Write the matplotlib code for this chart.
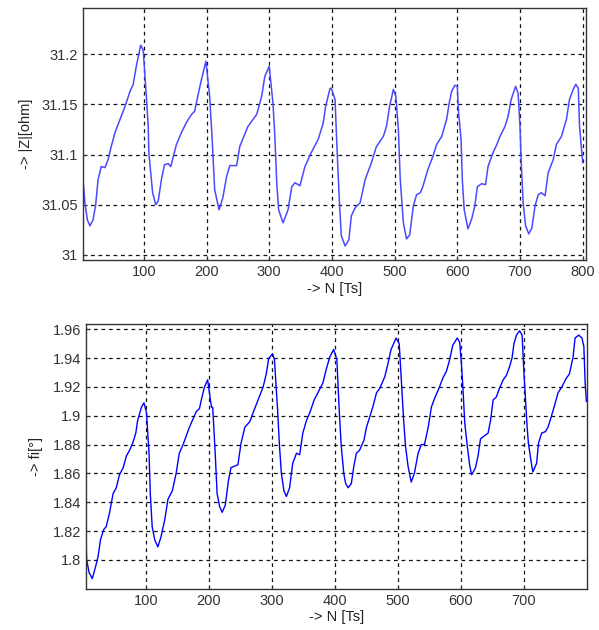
import matplotlib.pyplot as plt
import numpy as np
from matplotlib.ticker import FormatStrFormatter

# values
# top: |Z| [ohm] against sample number N
n_z = [3, 3, 6, 10, 14, 19, 23, 27, 32, 38, 43, 48, 54, 62, 70, 78, 83, 88, 95, 99,
       104, 107, 108, 111, 114, 119, 123, 128, 133, 139, 143, 147, 152, 160, 168, 176, 181, 187, 192, 199,
       205, 209, 213, 220, 226, 232, 237, 248, 253, 266, 280, 288, 293, 300,
       306, 309, 312, 315, 322, 330, 336, 341, 349, 357, 367, 378, 386, 390, 397, 399,
       405, 408, 412, 415, 421, 427, 431, 437, 445, 453, 463, 471, 482, 487, 492, 498,
       502, 506, 509, 514, 519, 524, 530, 535, 541, 545, 553, 561, 567, 575, 583, 587, 591, 596,
       600, 602, 606, 608, 611, 617, 623, 628, 632, 639, 645, 649, 657, 663, 668, 676, 681, 686, 693,
       697, 700, 702, 705, 709, 714, 719, 724, 729, 734, 740, 745, 753, 758, 766, 774, 779, 785, 789,
       793, 795, 800]
z_ohm = [31.098, 31.075, 31.052, 31.035, 31.029, 31.035, 31.049, 31.075, 31.088, 31.087, 31.095, 31.108,
         31.122, 31.135, 31.148, 31.163, 31.170, 31.188, 31.209, 31.204,
         31.158, 31.128, 31.102, 31.082, 31.062, 31.050, 31.054, 31.075, 31.090, 31.091, 31.088, 31.098,
         31.110, 31.122, 31.132, 31.140, 31.143, 31.161, 31.175, 31.193,
         31.158, 31.115, 31.065, 31.045, 31.057, 31.078, 31.089, 31.089, 31.108, 31.128, 31.140, 31.158,
         31.178, 31.188,
         31.151, 31.118, 31.072, 31.045, 31.032, 31.045, 31.068, 31.072, 31.069, 31.088, 31.102, 31.115,
         31.131, 31.148, 31.166, 31.166,
         31.155, 31.108, 31.052, 31.019, 31.009, 31.015, 31.039, 31.047, 31.052, 31.075, 31.092, 31.108,
         31.118, 31.128, 31.148, 31.165,
         31.158, 31.125, 31.075, 31.032, 31.016, 31.020, 31.049, 31.060, 31.062, 31.068, 31.085, 31.098,
         31.110, 31.118, 31.135, 31.151, 31.163, 31.169,
         31.168, 31.142, 31.115, 31.075, 31.045, 31.026, 31.036, 31.049, 31.068, 31.071, 31.070, 31.088,
         31.102, 31.110, 31.118, 31.128, 31.138, 31.155, 31.168,
         31.161, 31.128, 31.092, 31.052, 31.029, 31.021, 31.027, 31.049, 31.060, 31.062, 31.059, 31.082,
         31.095, 31.110, 31.118, 31.135, 31.155, 31.165, 31.170,
         31.166, 31.128, 31.092]

# bottom: fi [deg] against sample number N
n_fi = [4, 5, 6, 10, 15, 20, 24, 28, 33, 37, 42, 48, 53, 58, 64, 69, 74, 79, 84, 87, 93, 97,
        101, 105, 107, 110, 114, 119, 124, 130, 135, 142, 148, 153, 159, 164, 169, 175, 180, 185, 189, 193, 198,
        204, 206, 210, 213, 217, 221, 226, 231, 235, 246, 251, 257, 265, 270, 278, 286, 291, 295, 301,
        304, 309, 312, 315, 319, 323, 328, 333, 339, 344, 349, 355, 360, 367, 373, 381, 386, 392, 398,
        403, 407, 410, 414, 417, 421, 426, 430, 434, 439, 446, 450, 455, 460, 466, 471, 479, 484, 489, 497,
        502, 505, 509, 512, 516, 521, 526, 532, 537, 542, 548, 553, 558, 565, 571, 577, 582, 587, 594,
        598, 601, 603, 606, 610, 614, 617, 623, 627, 631, 637, 643, 647, 651, 656, 661, 667, 672, 677,
        681, 684, 688, 693,
        697, 700, 703, 705, 707, 711, 714, 720, 723, 728, 734, 738, 743, 749, 754, 760, 767, 772, 778,
        781, 787, 792, 795, 797, 799]
fi_deg = [1.836, 1.815, 1.800, 1.791, 1.787, 1.795, 1.802, 1.814, 1.821, 1.823, 1.832, 1.846, 1.850,
          1.859, 1.864, 1.872, 1.876, 1.881, 1.888, 1.897, 1.906, 1.909,
          1.902, 1.874, 1.846, 1.823, 1.814, 1.809, 1.816, 1.828, 1.842, 1.848, 1.860, 1.874, 1.880,
          1.886, 1.892, 1.898, 1.903, 1.905, 1.913, 1.920, 1.925,
          1.906, 1.906, 1.874, 1.846, 1.837, 1.833, 1.838, 1.855, 1.864, 1.866, 1.881, 1.892, 1.896,
          1.902, 1.911, 1.920, 1.929, 1.940, 1.943,
          1.939, 1.904, 1.879, 1.860, 1.848, 1.844, 1.850, 1.867, 1.874, 1.873, 1.888, 1.897, 1.902,
          1.911, 1.916, 1.923, 1.932, 1.941, 1.946,
          1.939, 1.902, 1.879, 1.860, 1.853, 1.850, 1.853, 1.865, 1.874, 1.876, 1.883, 1.892, 1.899,
          1.906, 1.916, 1.919, 1.927, 1.936, 1.946, 1.954,
          1.950, 1.927, 1.897, 1.879, 1.865, 1.854, 1.860, 1.874, 1.880, 1.880, 1.892, 1.906, 1.912,
          1.919, 1.926, 1.931, 1.939, 1.949, 1.954,
          1.951, 1.934, 1.920, 1.895, 1.879, 1.865, 1.859, 1.864, 1.872, 1.884, 1.886, 1.888, 1.897,
          1.911, 1.913, 1.919, 1.925, 1.928, 1.934,
          1.940, 1.950, 1.956, 1.959,
          1.956, 1.929, 1.906, 1.892, 1.881, 1.869, 1.861, 1.867, 1.881, 1.888, 1.889, 1.892, 1.899,
          1.908, 1.916, 1.920, 1.926, 1.929, 1.941,
          1.954, 1.956, 1.954, 1.948, 1.923, 1.910]

z_ticks = [31, 31.05, 31.1, 31.15, 31.2]
fi_ticks = [1.8, 1.82, 1.84, 1.86, 1.88, 1.9, 1.92, 1.94, 1.96]
n_ticks_top = [100, 200, 300, 400, 500, 600, 700, 800]
n_ticks_bot = [100, 200, 300, 400, 500, 600, 700]

plt.rcParams['font.family'] = ['Liberation Sans', 'DejaVu Sans']
plt.rcParams['font.size'] = 10.5

fig = plt.figure(figsize=(5.99, 6.30), dpi=100)
ax1 = fig.add_axes([0.1386, 0.5873, 0.8394, 0.4000])
ax2 = fig.add_axes([0.1436, 0.0656, 0.8364, 0.4196])

grid_kw = dict(color='#111111', linestyle=(0, (3, 3)), linewidth=0.9)

# |Z|
ax1.plot(n_z, z_ohm, color='#4a4aff', linewidth=1.1)
ax1.set_xlim(3, 805)
ax1.set_ylim(30.995, 31.246)
ax1.set_xticks(n_ticks_top)
ax1.set_yticks(z_ticks)
ax1.yaxis.set_major_formatter(FormatStrFormatter('%g'))
ax1.grid(True, **grid_kw)
ax1.set_xlabel('-> N [Ts]', labelpad=2, color='#222222')
ax1.set_ylabel('-> |Z|[ohm]', labelpad=6, color='#222222')

# fi
ax2.plot(n_fi, fi_deg, color='#0000ff', linewidth=1.0)
ax2.set_xlim(5, 800)
ax2.set_ylim(1.78, 1.9635)
ax2.set_xticks(n_ticks_bot)
ax2.set_yticks(fi_ticks)
ax2.yaxis.set_major_formatter(FormatStrFormatter('%g'))
ax2.grid(True, **grid_kw)
ax2.set_xlabel('-> N [Ts]', labelpad=2, color='#222222')
ax2.set_ylabel('-> fi[°]', labelpad=7, color='#222222')

for ax in (ax1, ax2):
    ax.set_axisbelow(True)
    ax.tick_params(direction='in', length=3, colors='#333333', labelsize=10.5)
    for s in ax.spines.values():
        s.set_color('#333333')
        s.set_linewidth(1.0)

plt.savefig('out.png', dpi=100)
